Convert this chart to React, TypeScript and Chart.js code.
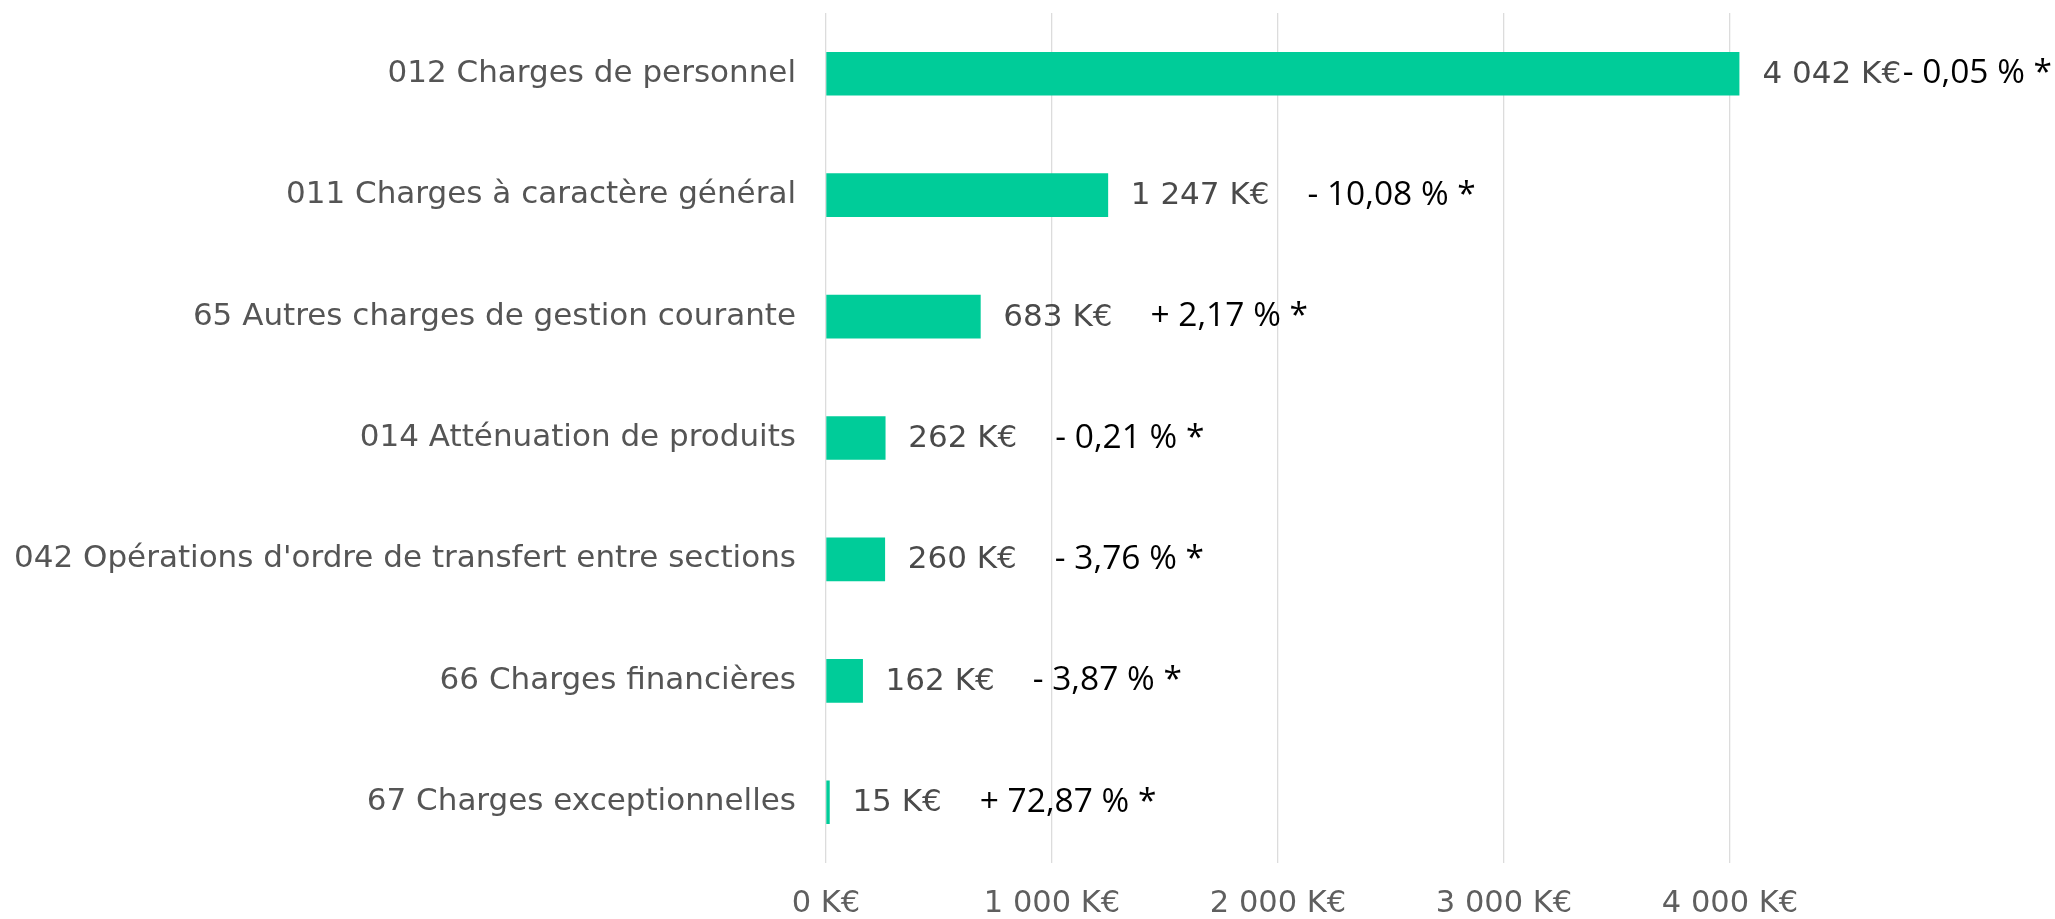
import React, { useEffect, useRef } from "react";
import { Chart, registerables } from "chart.js";

Chart.register(...registerables);

const categories = [
  "012 Charges de personnel",
  "011 Charges à caractère général",
  "65 Autres charges de gestion courante",
  "014 Atténuation de produits",
  "042 Opérations d'ordre de transfert entre sections",
  "66 Charges financières",
  "67 Charges exceptionnelles",
];
const amounts = [4042, 1247, 683, 262, 260, 162, 15];
const changes = [
  "- 0,05 % *",
  "- 10,08 % *",
  "+ 2,17 % *",
  "- 0,21 % *",
  "- 3,76 % *",
  "- 3,87 % *",
  "+ 72,87 % *",
];
const tickStep = 1000;

const fmt = (v: number) =>
  String(Math.round(v)).replace(/\B(?=(\d{3})+(?!\d))/g, " ") + " K€";

const FONT = "'DejaVu Sans', Verdana, sans-serif";

const labelPlugin = {
  id: "barLabels",
  afterDatasetsDraw(chart: any) {
    const ctx = chart.ctx;
    const meta = chart.getDatasetMeta(0);
    ctx.save();
    ctx.textBaseline = "middle";
    ctx.textAlign = "left";
    meta.data.forEach((bar: any, i: number) => {
      const valText = fmt(amounts[i]);
      ctx.font = `31px ${FONT}`;
      ctx.fillStyle = "#4a4a4a";
      const vx = bar.x + 23;
      ctx.fillText(valText, vx, bar.y + 1);
      const vw = ctx.measureText(valText).width;
      ctx.font = `33.5px 'Open Sans', 'Noto Sans', sans-serif`;
      ctx.fillStyle = "#000";
      const pw = ctx.measureText(changes[i]).width;
      let px = vx + vw + 38;
      px = Math.min(px, chart.width - pw - 3);
      ctx.fillText(changes[i], px, bar.y);
    });
    ctx.restore();
  },
};

export default function App() {
  const ref = useRef<HTMLCanvasElement>(null);
  useEffect(() => {
    if (!ref.current) return;
    const maxVal = Math.max(...amounts);
    const chart = new Chart(ref.current, {
      type: "bar",
      data: {
        labels: categories,
        datasets: [
          {
            data: amounts,
            backgroundColor: "#00CC99",
            borderWidth: 0,
            barThickness: 43,
          },
        ],
      },
      options: {
        indexAxis: "y",
        animation: false,
        responsive: true,
        maintainAspectRatio: false,
        layout: { padding: { left: 0, right: 315.5, top: 13, bottom: 0 } },
        plugins: {
          legend: { display: false },
          tooltip: { enabled: false },
        },
        scales: {
          x: {
            min: 0,
            max: maxVal,
            border: { display: false },
            grid: { color: "#dcdcdc", drawTicks: false, lineWidth: 1.3 },
            ticks: {
              padding: 23,
              color: "#5f5f5f",
              font: { family: FONT, size: 30.5 },
              callback: (v: any) => fmt(Number(v)),
            },
            afterBuildTicks: (s: any) => {
              const t = [];
              for (let v = 0; v <= maxVal; v += tickStep) t.push({ value: v });
              s.ticks = t;
            },
            afterFit: (s: any) => {
              s.height = 56;
              s.paddingLeft = 0;
            },
          },
          y: {
            border: { display: false },
            grid: { display: false, drawTicks: false },
            ticks: {
              padding: 30,
              color: "#555555",
              font: { family: FONT, size: 31 },
            },
            afterFit: (s: any) => {
              s.width = 826;
              s.paddingTop = 0;
              s.paddingBottom = 0;
            },
          },
        },
      },
      plugins: [labelPlugin],
    });
    return () => chart.destroy();
  }, []);
  return (
    <div
      style={{
        position: "fixed",
        left: 0,
        top: 0,
        width: 2055,
        height: 919,
        background: "#fff",
      }}
    >
      <canvas ref={ref} />
    </div>
  );
}
